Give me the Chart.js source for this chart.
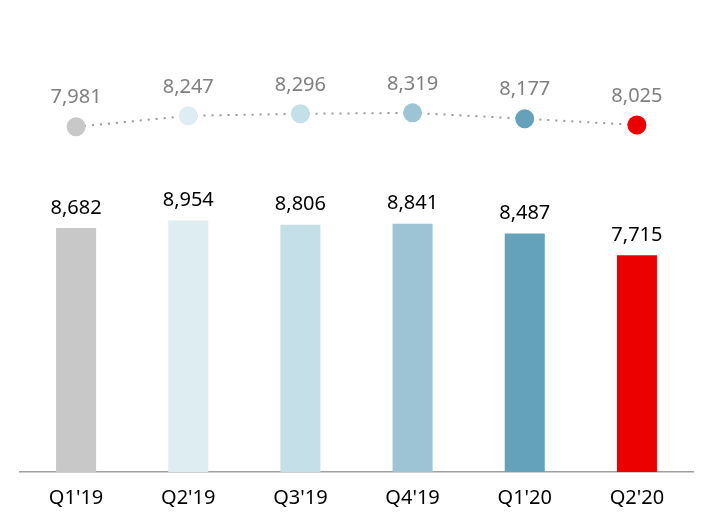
<!DOCTYPE html>
<html>
<head>
<meta charset="utf-8">
<script src="https://cdn.jsdelivr.net/npm/chart.js@4"></script>
<style>
  body { margin: 0; background: #fff; }
  #wrap { width: 714px; height: 530px; }
</style>
</head>
<body>
<div id="wrap"><canvas id="chart" width="714" height="530"></canvas></div>
<script>
// quarters on the x axis
const quarters = ["Q1'19", "Q2'19", "Q3'19", "Q4'19", "Q1'20", "Q2'20"];
// bar series (lower) and point series (upper)
const barValues = [8682, 8954, 8806, 8841, 8487, 7715];
const lineValues = [7981, 8247, 8296, 8319, 8177, 8025];
// one colour per quarter
const quarterColors = ['#c8c8c8', '#deedf2', '#c4dfe8', '#9cc4d4', '#64a2bb', '#ec0000'];

const fmt = v => v.toLocaleString('en-US');

// draws the value above each bar and each point
const valueLabels = {
    id: 'valueLabels',
    afterDatasetsDraw(chart) {
        const ctx = chart.ctx;
        ctx.save();
        ctx.font = '20px "Noto Sans"';
        ctx.textAlign = 'center';
        ctx.textBaseline = 'middle';
        chart.data.datasets.forEach((ds, i) => {
            const meta = chart.getDatasetMeta(i);
            meta.data.forEach((el, j) => {
                if (ds.type === 'line') {
                    ctx.fillStyle = '#7f7f7f';
                    ctx.fillText(fmt(ds.data[j]), el.x, el.y - 29);
                } else {
                    ctx.fillStyle = '#000';
                    ctx.fillText(fmt(ds.data[j]), el.x, el.y - 20);
                }
            });
        });
        ctx.restore();
    }
};

const ctx = document.getElementById('chart').getContext('2d');
new Chart(ctx, {
    data: {
        labels: quarters,
        datasets: [
            {
                type: 'line',
                data: lineValues,
                yAxisID: 'y2',
                borderColor: '#999',
                borderWidth: 2,
                borderDash: [2, 6],
                pointRadius: 9.5,
                pointHoverRadius: 9.5,
                pointBackgroundColor: quarterColors,
                pointBorderWidth: 0,
                fill: false,
                tension: 0
            },
            {
                type: 'bar',
                data: barValues,
                yAxisID: 'y',
                backgroundColor: quarterColors,
                categoryPercentage: 1,
                barPercentage: 0.357
            }
        ]
    },
    options: {
        responsive: false,
        animation: false,
        layout: { padding: { top: 0, left: 20, right: 21, bottom: 14 } },
        plugins: {
            legend: { display: false },
            tooltip: { enabled: false }
        },
        scales: {
            x: {
                grid: { display: false },
                border: { display: true, color: '#a0a0a0', width: 1.5 },
                ticks: {
                    padding: 6,
                    maxRotation: 0,
                    color: '#000',
                    font: { family: 'Noto Sans', size: 20 }
                }
            },
            y: { display: false, min: 0, max: 16464 },
            y2: { display: false, min: -412, max: 10832 }
        }
    },
    plugins: [valueLabels]
});
</script>
</body>
</html>
